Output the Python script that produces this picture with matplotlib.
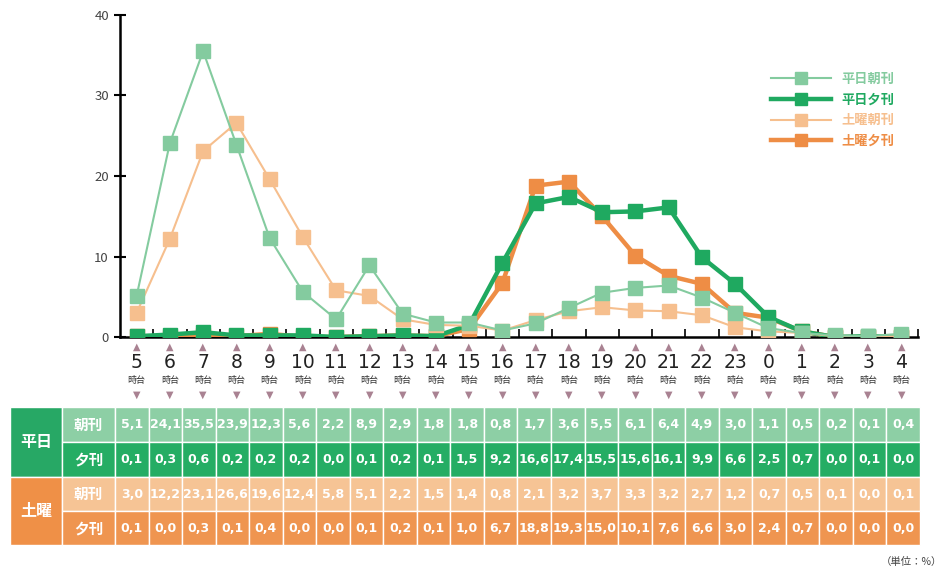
import matplotlib.pyplot as plt
import matplotlib.transforms as mtransforms
from matplotlib.patches import Rectangle

plt.rcParams['font.family'] = ['Noto Sans CJK JP', 'DejaVu Sans']

# data
hours = [5, 6, 7, 8, 9, 10, 11, 12, 13, 14, 15, 16, 17, 18, 19, 20, 21, 22, 23, 0, 1, 2, 3, 4]
wd_am = [5.1, 24.1, 35.5, 23.9, 12.3, 5.6, 2.2, 8.9, 2.9, 1.8, 1.8, 0.8, 1.7, 3.6, 5.5, 6.1, 6.4, 4.9, 3.0, 1.1, 0.5, 0.2, 0.1, 0.4]
wd_pm = [0.1, 0.3, 0.6, 0.2, 0.2, 0.2, 0.0, 0.1, 0.2, 0.1, 1.5, 9.2, 16.6, 17.4, 15.5, 15.6, 16.1, 9.9, 6.6, 2.5, 0.7, 0.0, 0.1, 0.0]
sa_am = [3.0, 12.2, 23.1, 26.6, 19.6, 12.4, 5.8, 5.1, 2.2, 1.5, 1.4, 0.8, 2.1, 3.2, 3.7, 3.3, 3.2, 2.7, 1.2, 0.7, 0.5, 0.1, 0.0, 0.1]
sa_pm = [0.1, 0.0, 0.3, 0.1, 0.4, 0.0, 0.0, 0.1, 0.2, 0.1, 1.0, 6.7, 18.8, 19.3, 15.0, 10.1, 7.6, 6.6, 3.0, 2.4, 0.7, 0.0, 0.0, 0.0]

series_labels = ['平日朝刊', '平日夕刊', '土曜朝刊', '土曜夕刊']
group_labels = ['平日', '土曜']
row_labels = ['朝刊', '夕刊']
yticks = [0, 10, 20, 30, 40]

c_wd_am = '#84cb9f'
c_wd_pm = '#1fa960'
c_sa_am = '#f6bf8e'
c_sa_pm = '#ee8d45'

W, H = 948, 572
fig = plt.figure(figsize=(W / 100, H / 100), dpi=100)
ax = fig.add_axes([120 / W, 1 - 337 / H, (918 - 120) / W, (337 - 15) / H])

x = list(range(len(hours)))

l_sa_pm, = ax.plot(x, sa_pm, '-s', color=c_sa_pm, lw=3.2, ms=10, zorder=3)
l_wd_pm, = ax.plot(x, wd_pm, '-s', color=c_wd_pm, lw=3.2, ms=10, zorder=4)
l_sa_am, = ax.plot(x, sa_am, '-s', color=c_sa_am, lw=1.5, ms=10, zorder=5)
l_wd_am, = ax.plot(x, wd_am, '-s', color=c_wd_am, lw=1.5, ms=10, zorder=6)

ax.set_xlim(-0.5, 23.45)
ax.set_ylim(0, 40)
ax.set_yticks(yticks)
ax.tick_params(axis='y', direction='inout', length=8, width=1.5, labelsize=9.5,
               labelcolor='#444444', pad=4)
ax.set_xticks([i + 0.5 for i in x])
ax.set_xticklabels([])
ax.tick_params(axis='x', direction='in', length=6, width=1.2)
for s in ['top', 'right']:
    ax.spines[s].set_visible(False)
ax.spines['left'].set_linewidth(1.8)
ax.spines['bottom'].set_linewidth(1.8)
ax.spines['left'].set_zorder(7)
ax.spines['bottom'].set_zorder(1)

leg = ax.legend([l_wd_am, l_wd_pm, l_sa_am, l_sa_pm], series_labels,
                loc='upper right', bbox_to_anchor=(0.985, 0.86), frameon=False,
                fontsize=9.5, handlelength=4.5, labelspacing=0.5, markerscale=0.8,
                labelcolor='linecolor')
for t in leg.get_texts():
    t.set_fontweight('bold')

# hour labels under the axis
trans = mtransforms.blended_transform_factory(ax.transData, fig.transFigure)
tri = '#a98292'
for i, h in enumerate(hours):
    ax.text(i, 1 - 347 / H, '▲', transform=trans, ha='center', va='center',
            fontsize=7, color=tri, family='DejaVu Sans')
    ax.text(i, 1 - 363 / H, str(h), transform=trans, ha='center', va='center',
            fontsize=13.5, color='#222222', family='DejaVu Sans')
    ax.text(i, 1 - 381 / H, '時台', transform=trans, ha='center', va='center',
            fontsize=6.5, color='#333333')
    ax.text(i, 1 - 395 / H, '▼', transform=trans, ha='center', va='center',
            fontsize=7, color=tri, family='DejaVu Sans')

# table
tab = fig.add_axes([0, 0, 1, 1])
tab.set_xlim(0, W)
tab.set_ylim(H, 0)
tab.axis('off')

rows = [wd_am, wd_pm, sa_am, sa_pm]
row_colors = ['#8dcfa5', '#25ad64', '#f6c495', '#ef9550']
head_colors = ['#27a865', '#ef9047']
row_y = [407, 442, 477, 511, 545]
col_x0, col_w = 115, (920 - 115) / len(hours)

for g in range(2):
    y0, y1 = row_y[2 * g], row_y[2 * g + 2]
    tab.add_patch(Rectangle((10, y0), 52, y1 - y0, facecolor=head_colors[g],
                            edgecolor='white', lw=1))
    tab.text(36, (y0 + y1) / 2, group_labels[g], ha='center', va='center',
             color='white', fontsize=11.5, fontweight='bold')

for r, vals in enumerate(rows):
    y0, y1 = row_y[r], row_y[r + 1]
    tab.add_patch(Rectangle((62, y0), col_x0 - 62, y1 - y0, facecolor=row_colors[r],
                            edgecolor='white', lw=1))
    tab.text((62 + col_x0) / 2, (y0 + y1) / 2, row_labels[r % 2], ha='center',
             va='center', color='white', fontsize=10.5, fontweight='bold')
    for i, v in enumerate(vals):
        cx = col_x0 + i * col_w
        tab.add_patch(Rectangle((cx, y0), col_w, y1 - y0, facecolor=row_colors[r],
                                edgecolor='white', lw=1))
        tab.text(cx + col_w / 2, (y0 + y1) / 2, f'{v:.1f}'.replace('.', ','),
                 ha='center', va='center', color='white', fontsize=9,
                 fontweight='bold', family='Liberation Sans Narrow')

tab.text(942, 562, '（単位：%）', ha='right', va='center', fontsize=7.5, color='#444444')

plt.savefig('out.png', dpi=100)
